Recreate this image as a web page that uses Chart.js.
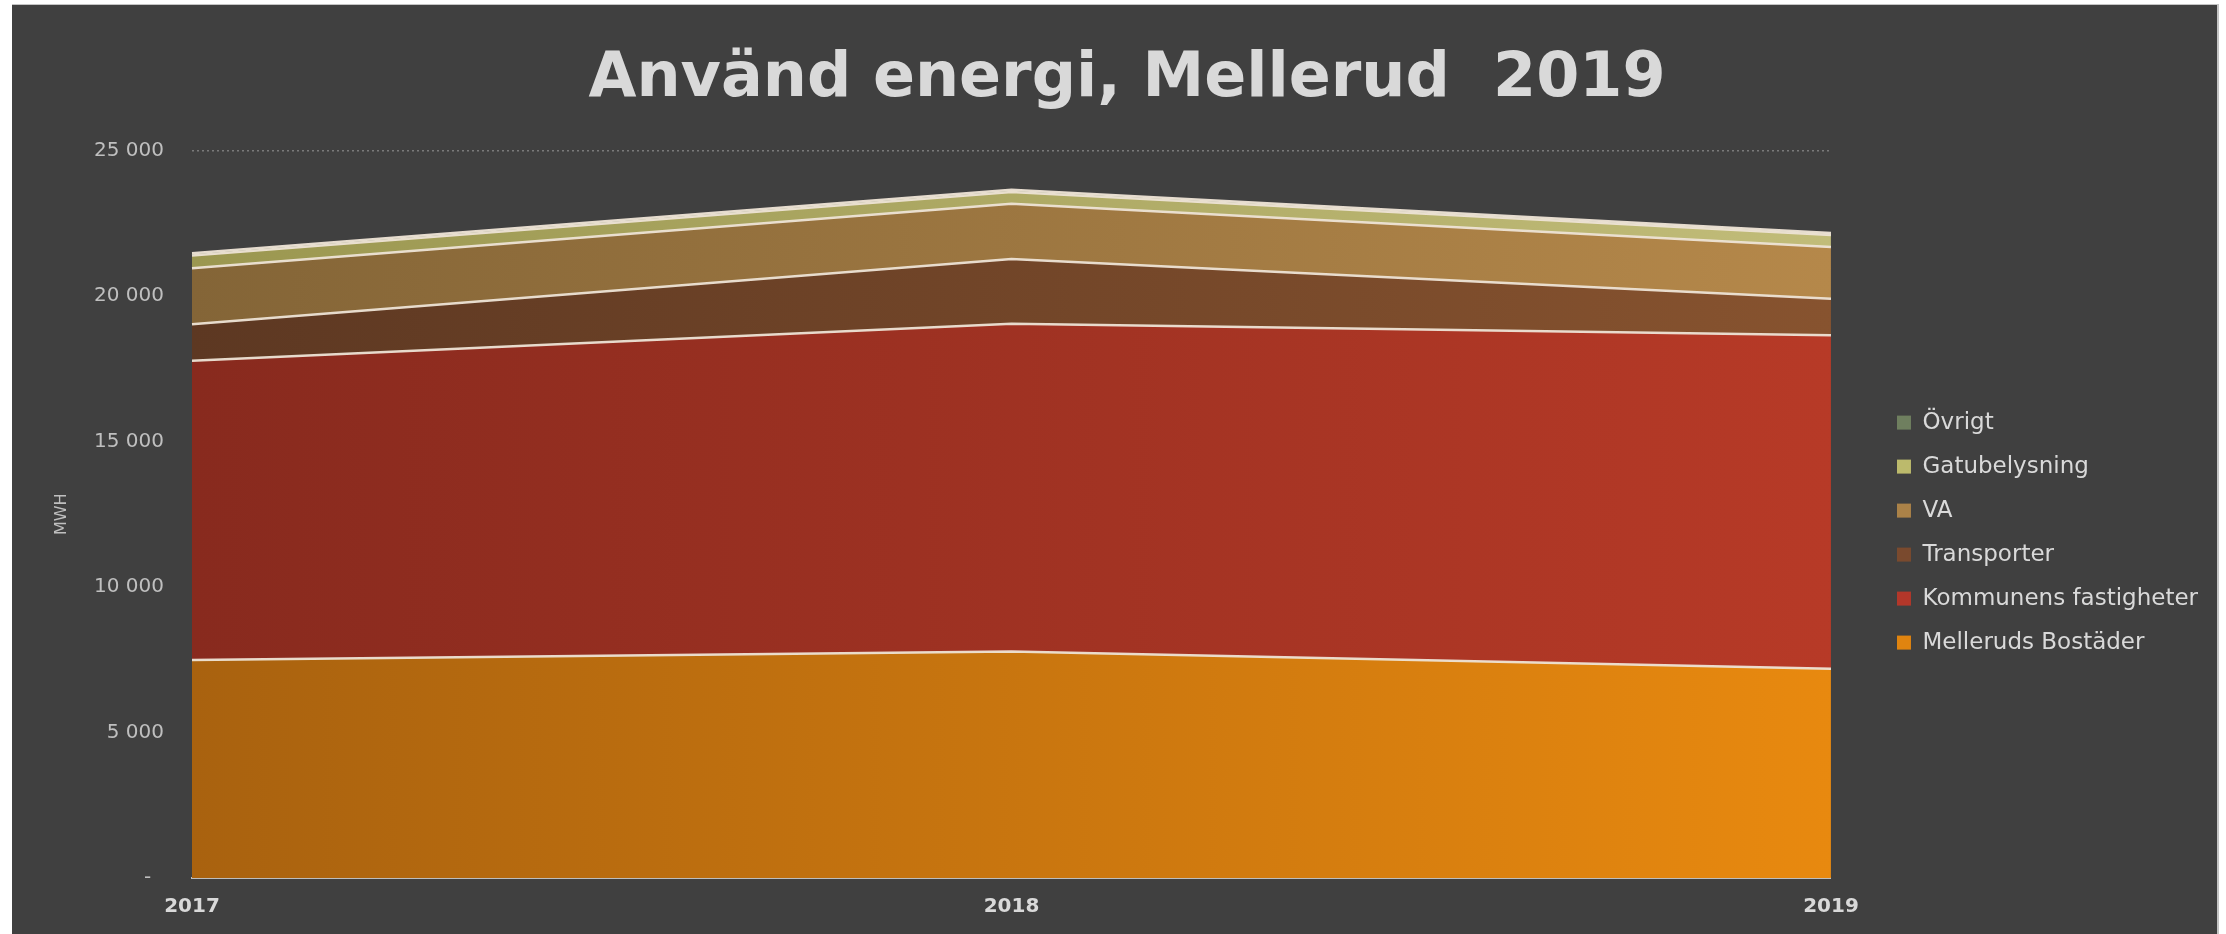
<!DOCTYPE html>
<html lang="sv">
<head>
  <meta charset="UTF-8">
  <title>Använd energi, Mellerud 2019</title>
  <script src="https://cdn.jsdelivr.net/npm/chart.js"></script>
  <style>
    html, body { margin: 0; padding: 0; background: #fff; width: 2226px; height: 934px; overflow: hidden; }
    .panel { position: absolute; left: 12px; top: 4px; width: 2205px; height: 930px; background: #404040;
             border-right: 2px solid #c4c4c4; border-top: 1px solid #c4c4c4; }
    .panel canvas { display: block; }
  </style>
</head>
<body>
  <div class="panel">
    <canvas id="energyChart" width="2205" height="929"></canvas>
  </div>

  <script>
    // data (MWh)
    const years = ['2017', '2018', '2019'];
    const seriesNames = ['Melleruds Bostäder', 'Kommunens fastigheter', 'Transporter', 'VA', 'Gatubelysning', 'Övrigt'];
    const mellerudsBostader = [7490, 7780, 7190];
    const kommunensFastigheter = [10280, 11260, 11460];
    const transporter = [1260, 2230, 1250];
    const va = [1920, 1900, 1780];
    const gatubelysning = [440, 400, 410];
    const ovrigt = [80, 80, 70];
    const yTicks = [0, 5000, 10000, 15000, 20000, 25000];

    // left -> right shades of each band, plus the flat legend swatch
    const shadesLeft  = ['#a9620f', '#882a1e', '#5d3822', '#846537', '#9b9750', '#62704f'];
    const shadesRight = ['#e8890f', '#b73a27', '#87532f', '#b5884a', '#c1bc79', '#7d8d69'];
    const swatches    = ['#e0840f', '#b3372a', '#7a4a2e', '#ab8248', '#bcba6c', '#6f7f5f'];

    const seriesValues = [mellerudsBostader, kommunensFastigheter, transporter, va, gatubelysning, ovrigt];

    function bandFill(i) {
      return function(ctx) {
        const area = ctx.chart.chartArea;
        if (!area) return shadesRight[i];
        const g = ctx.chart.ctx.createLinearGradient(area.left, 0, area.right, 0);
        g.addColorStop(0, shadesLeft[i]);
        g.addColorStop(1, shadesRight[i]);
        return g;
      };
    }

    const datasets = seriesValues.map((vals, i) => ({
      label: seriesNames[i],
      data: vals,
      backgroundColor: bandFill(i),
      borderColor: 'rgba(238, 228, 214, 0.95)',
      borderWidth: 2.5,
      pointRadius: 0,
      tension: 0,
      fill: i === 0 ? 'origin' : '-1'
    }));

    function fmt(v) {
      if (v === 0) return '-  ';
      return String(v).replace(/\B(?=(\d{3})+(?!\d))/g, ' ');
    }

    const chart = new Chart(document.getElementById('energyChart'), {
      type: 'line',
      data: { labels: years, datasets: datasets },
      options: {
        responsive: false,
        animation: false,
        layout: { padding: { left: 34, right: 9, top: 0, bottom: 16 } },
        plugins: {
          title: {
            display: true,
            text: 'Använd energi, Mellerud  2019',
            color: '#d9d9d9',
            font: { family: 'DejaVu Sans', size: 62, weight: 'bold' },
            padding: { top: 38, bottom: 33 }
          },
          legend: {
            position: 'right',
            reverse: true,
            title: { display: true, text: '', padding: { top: 141, bottom: 0 }, font: { size: 1 } },
            labels: {
              color: '#d9d9d9',
              font: { family: 'DejaVu Sans', size: 23 },
              boxWidth: 14,
              boxHeight: 14,
              padding: 21,
              generateLabels: function(c) {
                return c.data.datasets.map((ds, i) => ({
                  text: ds.label,
                  fillStyle: swatches[i],
                  strokeStyle: swatches[i],
                  lineWidth: 0,
                  fontColor: '#d9d9d9',
                  hidden: false,
                  datasetIndex: i
                }));
              }
            }
          },
          tooltip: { enabled: false }
        },
        scales: {
          x: {
            offset: false,
            afterFit: s => { s.height = 40; },
            grid: { display: false, drawTicks: false },
            border: { display: true, color: '#bdbdbd', width: 2 },
            ticks: {
              color: '#d9d9d9',
              padding: 17,
              font: { family: 'DejaVu Sans', size: 20, weight: 'bold' }
            }
          },
          y: {
            stacked: true,
            min: 0,
            max: 25000,
            afterBuildTicks: s => { s.ticks = yTicks.map(v => ({ value: v })); },
            afterFit: s => { s.width = 146; },
            grid: { color: '#7a7a7a', lineWidth: 1.5, drawTicks: false },
            border: { display: false, dash: [2, 3] },
            ticks: {
              color: '#bfbfbf',
              padding: 28,
              font: { family: 'DejaVu Sans', size: 20 },
              callback: v => fmt(v)
            },
            title: {
              display: true,
              text: 'MWH',
              color: '#bfbfbf',
              font: { family: 'DejaVu Sans', size: 16 },
              padding: { top: 6, bottom: 0 }
            }
          },
          yr: {
            position: 'right',
            grid: { display: false },
            border: { display: false },
            ticks: { display: false },
            afterFit: s => { s.width = 45; }
          }
        }
      }
    });
  </script>
</body>
</html>
